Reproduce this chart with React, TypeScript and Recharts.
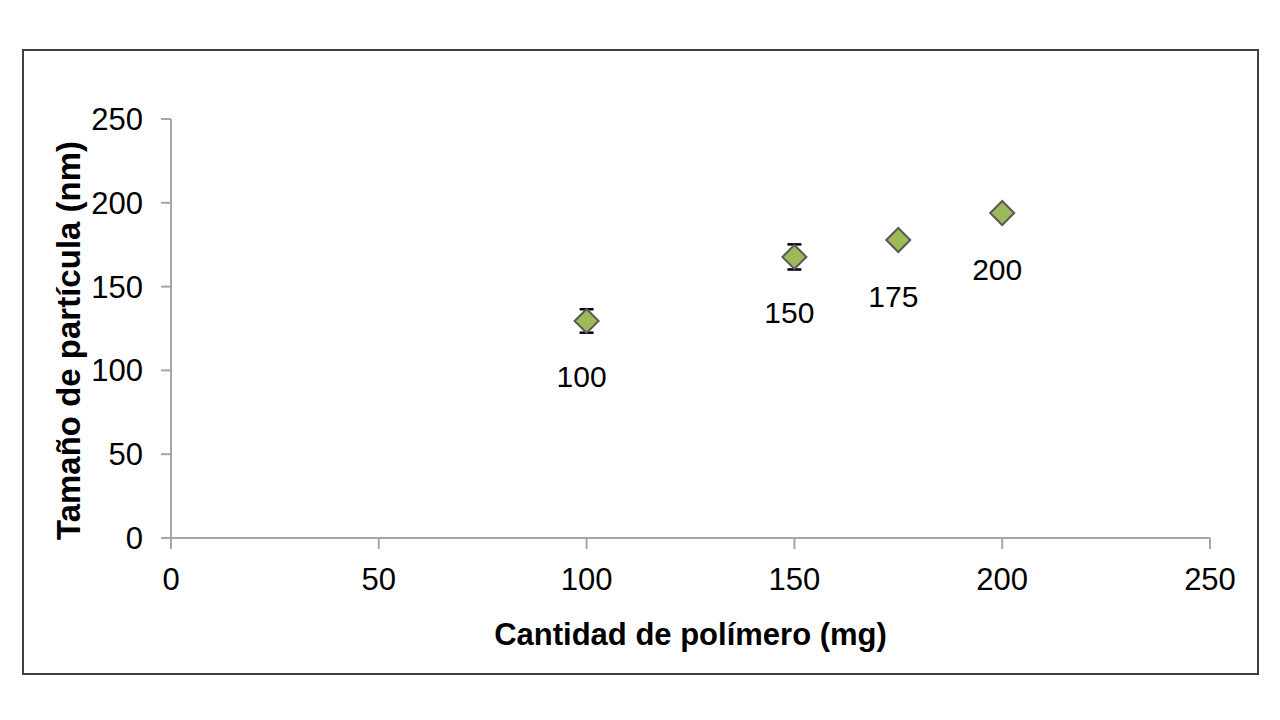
import { ScatterChart, Scatter, XAxis, YAxis, ErrorBar, LabelList, Label } from 'recharts';

// Polymer amount (mg) vs particle size (nm)
const polymerMg = [100, 150, 175, 200];
const particleNm = [129.5, 167.7, 177.8, 193.9];
const particleErr = [7, 7.5, 2.5, 2];

const xTicks = [0, 50, 100, 150, 200, 250];
const yTicks = [0, 50, 100, 150, 200, 250];

const points = polymerMg.map((x, i) => ({ x, y: particleNm[i], err: particleErr[i] }));

const FONT = '"Liberation Sans", Arial, sans-serif';
const AXIS_GREY = '#a6a6a6';

const Diamond = (props: any) => {
  const { cx, cy } = props;
  if (cx == null || cy == null) return null;
  const w = 12;
  const h = 12;
  return (
    <polygon
      points={`${cx},${cy - h} ${cx + w},${cy} ${cx},${cy + h} ${cx - w},${cy}`}
      fill="#9bbb59"
      stroke="#595959"
      strokeWidth={2}
    />
  );
};

const NoMark = () => null;

const PointLabel = (props: any) => {
  const { x, y, width, height, value } = props;
  const cx = x + (width || 0) / 2;
  const cy = y + (height || 0) / 2;
  return (
    <text x={cx - 5} y={cy + 56} textAnchor="middle" dominantBaseline="central" fontSize={30} fontFamily={FONT} fill="#000">
      {value}
    </text>
  );
};

const YTitle = (props: any) => {
  const { viewBox } = props;
  const x = viewBox.x - 23;
  const y = viewBox.y + viewBox.height / 2 + 12;
  return (
    <text
      x={x}
      y={y}
      transform={`rotate(-90, ${x}, ${y})`}
      textAnchor="middle"
      dominantBaseline="central"
      fontSize={33}
      fontWeight="bold"
      fontFamily={FONT}
      fill="#000"
    >
      Tamaño de partícula (nm)
    </text>
  );
};

export default function App() {
  return (
    <div style={{ position: 'absolute', left: 0, top: 0, width: 1280, height: 720, background: '#fff' }}>
      <div
        style={{
          position: 'absolute',
          left: 22,
          top: 49,
          width: 1237,
          height: 626,
          border: '2px solid #404040',
          boxSizing: 'border-box',
        }}
      />
      <div style={{ position: 'absolute', left: 0, top: 0 }}>
        <ScatterChart width={1280} height={720} margin={{ top: 119, right: 70, bottom: 122, left: 91 }}>
          <XAxis
            type="number"
            dataKey="x"
            domain={[0, 250]}
            ticks={xTicks}
            interval={0}
            height={60}
            tickSize={11}
            tickMargin={19}
            axisLine={{ stroke: AXIS_GREY, strokeWidth: 2 }}
            tickLine={{ stroke: AXIS_GREY, strokeWidth: 2 }}
            tick={{ fill: '#000', fontSize: 31, fontFamily: FONT }}
          >
            <Label
              value="Cantidad de polímero (mg)"
              position="bottom"
              offset={25}
              fill="#000"
              fontSize={31}
              fontWeight="bold"
              fontFamily={FONT}
            />
          </XAxis>
          <YAxis
            type="number"
            dataKey="y"
            domain={[0, 250]}
            ticks={yTicks}
            interval={0}
            width={80}
            tickSize={10}
            tickMargin={18}
            axisLine={{ stroke: AXIS_GREY, strokeWidth: 2 }}
            tickLine={{ stroke: AXIS_GREY, strokeWidth: 2 }}
            tick={{ fill: '#000', fontSize: 31, fontFamily: FONT }}
          >
            <Label content={<YTitle />} />
          </YAxis>
          {/* error bars first so the diamonds sit on top of them */}
          <Scatter data={points} shape={<NoMark />} isAnimationActive={false}>
            <ErrorBar dataKey="err" direction="y" width={7} stroke="#000" strokeWidth={2.5} />
          </Scatter>
          <Scatter data={points} shape={<Diamond />} isAnimationActive={false}>
            <LabelList dataKey="x" content={<PointLabel />} />
          </Scatter>
        </ScatterChart>
      </div>
    </div>
  );
}
